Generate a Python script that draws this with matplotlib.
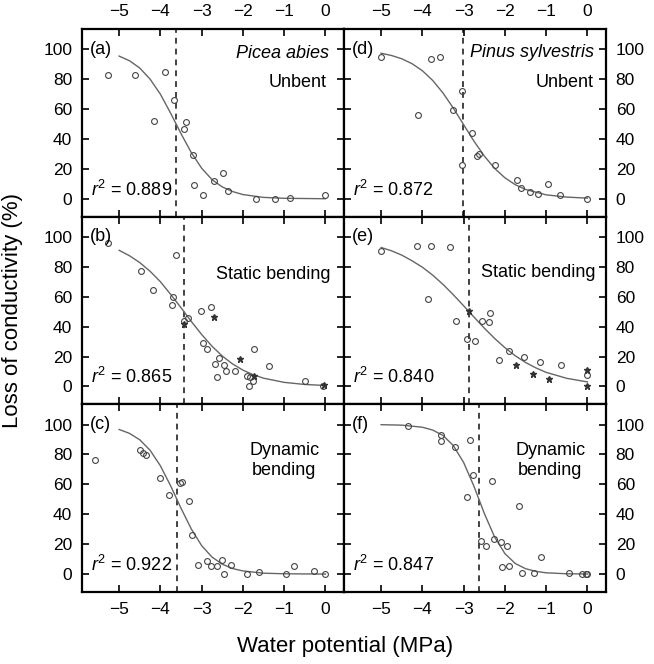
import matplotlib
matplotlib.use('Agg')
import matplotlib.pyplot as plt

plt.rcParams['font.family'] = ['Liberation Sans', 'DejaVu Sans']
plt.rcParams['mathtext.fontset'] = 'custom'
plt.rcParams['mathtext.rm'] = 'Liberation Sans'
plt.rcParams['mathtext.it'] = 'Liberation Sans:italic'

# ---- data ----
# (a) Picea abies, unbent
a_x = [-5.27, -4.62, -3.89, -4.16, -3.66, -3.37, -3.43, -3.22, -3.18, -2.96, -2.71, -2.49, -2.37, -1.68, -1.23, -0.87, -0.02]
a_y = [82.7, 82.7, 84.9, 52.3, 65.8, 51.0, 46.6, 29.3, 9.0, 2.7, 11.7, 16.9, 5.4, 0.0, 0.0, 0.5, 2.7]
# (b) Picea abies, static bending
b_x = [-5.27, -4.48, -4.17, -3.70, -3.72, -3.62, -3.32, -3.43, -3.01, -2.78, -2.96, -2.88, -2.58, -2.67, -2.63,
       -2.47, -2.41, -2.19, -1.90, -1.84, -1.76, -1.86, -1.72, -1.36, -0.49, -0.06]
b_y = [95.6, 77.2, 64.2, 59.5, 54.6, 87.8, 45.8, 44.0, 50.7, 52.9, 29.2, 25.2, 19.2, 15.3, 6.4,
       14.4, 10.0, 10.0, 7.1, 6.0, 3.8, 0.0, 25.2, 13.7, 3.8, 0.0]
b_star_x = [-3.43, -2.70, -2.08, -1.74, -0.04]
b_star_y = [42.0, 46.2, 18.1, 7.1, 0.7]
# (c) Picea abies, dynamic bending
c_x = [-5.59, -4.50, -4.42, -4.34, -4.01, -3.78, -3.53, -3.48, -3.31, -3.24, -3.10, -2.88, -2.78, -2.63, -2.51,
       -2.46, -2.29, -1.89, -1.62, -0.95, -0.77, -0.28, -0.02]
c_y = [76.1, 83.3, 81.0, 79.9, 64.3, 53.1, 60.9, 61.6, 48.7, 26.3, 6.3, 8.5, 5.1, 5.1, 9.2,
       0.0, 5.8, 0.0, 1.1, 0.0, 5.6, 1.8, 0.0]
# (d) Pinus sylvestris, unbent
d_x = [-5.00, -3.80, -3.58, -4.11, -3.26, -3.03, -3.03, -2.79, -2.63, -2.67, -2.25, -1.70, -1.62, -1.38, -1.20, -0.95, -0.66, 0.0]
d_y = [94.6, 93.5, 94.6, 56.3, 59.5, 72.1, 22.5, 43.7, 29.7, 28.6, 22.5, 12.2, 7.2, 4.5, 3.4, 9.9, 2.7, 0.0]
# (e) Pinus sylvestris, static bending
e_x = [-5.00, -4.13, -3.80, -3.32, -3.86, -3.18, -2.91, -2.73, -2.55, -2.39, -2.35, -2.14, -1.90, -1.54, -1.15, -0.63, 0.0]
e_y = [90.6, 94.0, 94.0, 93.3, 58.4, 43.9, 31.6, 30.5, 43.9, 42.8, 48.8, 17.6, 23.4, 19.4, 16.0, 14.5, 7.8]
e_star_x = [-2.87, -1.74, -1.33, -0.93, 0.0, 0.0]
e_star_y = [50.6, 14.5, 8.2, 4.9, 10.9, 0.4]
# (f) Pinus sylvestris, dynamic bending
f_x = [-4.35, -3.54, -3.54, -3.20, -2.85, -2.77, -2.91, -2.32, -1.66, -2.59, -2.47, -2.27, -2.10, -1.96, -2.06,
       -1.90, -1.59, -1.29, -1.12, -0.44, -0.12, -0.04, 0.0]
f_y = [99.3, 93.3, 89.3, 84.8, 89.7, 66.5, 51.8, 62.0, 45.8, 21.9, 19.0, 23.4, 21.2, 19.0, 4.5,
       5.6, 0.4, 0.7, 11.2, 0.4, 0.0, 0.0, 0.0]

# fitted curves, read at fixed water potentials
a_cx = [-5, -4.75, -4.5, -4.25, -4, -3.75, -3.5, -3.25, -3, -2.75, -2.5, -2.25, -2, -1.5, -1, 0]
a_cy = [95.4, 92.3, 87.4, 80.0, 69.9, 57.1, 43.5, 30.8, 20.4, 12.8, 7.9, 4.8, 2.8, 0.9, 0.3, 0.0]
b_cx = [-5, -4.75, -4.5, -4.25, -4, -3.75, -3.5, -3.25, -3, -2.75, -2.5, -2.25, -2, -1.75, -1.5, -1, -0.5, 0]
b_cy = [91.0, 87.4, 82.8, 77.0, 70.0, 61.5, 52.6, 43.4, 34.7, 26.9, 20.3, 15.0, 10.9, 7.8, 5.5, 2.7, 1.3, 0.6]
c_cx = [-5, -4.75, -4.5, -4.25, -4, -3.75, -3.5, -3.25, -3, -2.75, -2.5, -2.25, -2, -1.5, -1, 0]
c_cy = [96.7, 94.1, 89.8, 82.8, 72.4, 58.9, 44.0, 30.1, 19.0, 11.4, 6.6, 3.7, 2.1, 0.6, 0.2, 0.0]
d_cx = [-5, -4.75, -4.5, -4.25, -4, -3.75, -3.5, -3.25, -3, -2.75, -2.5, -2.25, -2, -1.75, -1.5, -1, -0.5, 0]
d_cy = [97.3, 95.8, 93.6, 90.3, 85.6, 79.1, 70.7, 60.6, 49.5, 38.5, 28.6, 20.3, 14.0, 9.4, 6.2, 2.6, 1.1, 0.4]
e_cx = [-5, -4.75, -4.5, -4.25, -4, -3.75, -3.5, -3.25, -3, -2.75, -2.5, -2.25, -2, -1.75, -1.5, -1.25, -1, -0.5, 0]
e_cy = [92.9, 90.7, 87.8, 84.0, 79.7, 74.4, 68.2, 61.3, 53.9, 46.4, 39.0, 32.1, 25.9, 20.5, 16.0, 12.4, 9.4, 5.4, 3.0]
f_cx = [-5, -4.5, -4, -3.75, -3.5, -3.25, -3, -2.75, -2.5, -2.25, -2, -1.75, -1.5, -1.25, -1, -0.5, 0]
f_cy = [99.9, 99.6, 98.2, 96.3, 92.7, 85.9, 74.6, 58.7, 40.6, 24.8, 13.7, 7.1, 3.6, 1.8, 0.85, 0.2, 0.05]

# water potential at 50 % loss (dashed lines)
psi50 = [-3.62, -3.43, -3.60, -3.01, -2.87, -2.63]
r2 = ['0.889', '0.865', '0.922', '0.872', '0.840', '0.847']
letters = ['a', 'b', 'c', 'd', 'e', 'f']

fig, axes = plt.subplots(3, 2, figsize=(6.54, 6.64), dpi=100, sharex=True, sharey=True)
fig.subplots_adjust(left=0.1254, right=0.9266, bottom=0.1084, top=0.9563, wspace=0, hspace=0)

panels = [
    (axes[0, 0], a_x, a_y, [], [], a_cx, a_cy),
    (axes[1, 0], b_x, b_y, b_star_x, b_star_y, b_cx, b_cy),
    (axes[2, 0], c_x, c_y, [], [], c_cx, c_cy),
    (axes[0, 1], d_x, d_y, [], [], d_cx, d_cy),
    (axes[1, 1], e_x, e_y, e_star_x, e_star_y, e_cx, e_cy),
    (axes[2, 1], f_x, f_y, [], [], f_cx, f_cy),
]

for i, (ax, px, py, sx, sy, cx, cy) in enumerate(panels):
    ax.plot(cx, cy, color='#666666', lw=1.0, zorder=2)
    ax.axvline(psi50[i], color='#222222', lw=1.2, dashes=(3.5, 3), zorder=1)
    ax.plot(px, py, 'o', ms=4.2, mfc='none', mec='#444444', mew=0.8, zorder=3)
    if sx:
        ax.plot(sx, sy, '*', ms=4.5, color='#333333', zorder=3)

    ax.set_xlim(-5.9, 0.45)
    ax.set_ylim(-12, 113.5)
    ax.set_xticks([-5, -4, -3, -2, -1, 0])
    ax.set_yticks([0, 20, 40, 60, 80, 100])
    for s in ax.spines.values():
        s.set_linewidth(1.6)
    ax.tick_params(direction='in', length=5, width=1.2, top=True, right=True,
                   labelsize=12.5, pad=7,
                   labelleft=False, labelright=False, labeltop=False, labelbottom=False)
    ax.text(-5.7, 100, '(%s)' % letters[i], fontsize=13, ha='left', va='center')
    ax.text(-5.68, 6, '$r^2$ = ' + r2[i], fontsize=13, ha='left', va='center')

for ax in axes[:, 0]:
    ax.tick_params(labelleft=True)
for ax in axes[:, 1]:
    ax.tick_params(labelright=True)
for ax in axes[0, :]:
    ax.tick_params(labeltop=True)
for ax in axes[2, :]:
    ax.tick_params(labelbottom=True)

axes[0, 0].text(0.08, 97, 'Picea abies', fontsize=13, style='italic', ha='right', va='center')
axes[0, 0].text(0.04, 78, 'Unbent', fontsize=13, ha='right', va='center')
axes[0, 1].text(0.15, 98, 'Pinus sylvestris', fontsize=13, style='italic', ha='right', va='center')
axes[0, 1].text(0.15, 78, 'Unbent', fontsize=13, ha='right', va='center')
axes[1, 0].text(0.12, 75, 'Static bending', fontsize=13, ha='right', va='center')
axes[1, 1].text(0.2, 76, 'Static bending', fontsize=13, ha='right', va='center')
axes[2, 0].text(-1.0, 76, 'Dynamic\nbending', fontsize=13, ha='center', va='center', linespacing=1.2)
axes[2, 1].text(-0.9, 76, 'Dynamic\nbending', fontsize=13, ha='center', va='center', linespacing=1.2)

fig.text(0.528, 0.026, 'Water potential (MPa)', fontsize=16, ha='center', va='center')
fig.text(0.019, 0.533, 'Loss of conductivity (%)', fontsize=16, rotation=90, ha='center', va='center')

plt.savefig('out.png', dpi=100)
